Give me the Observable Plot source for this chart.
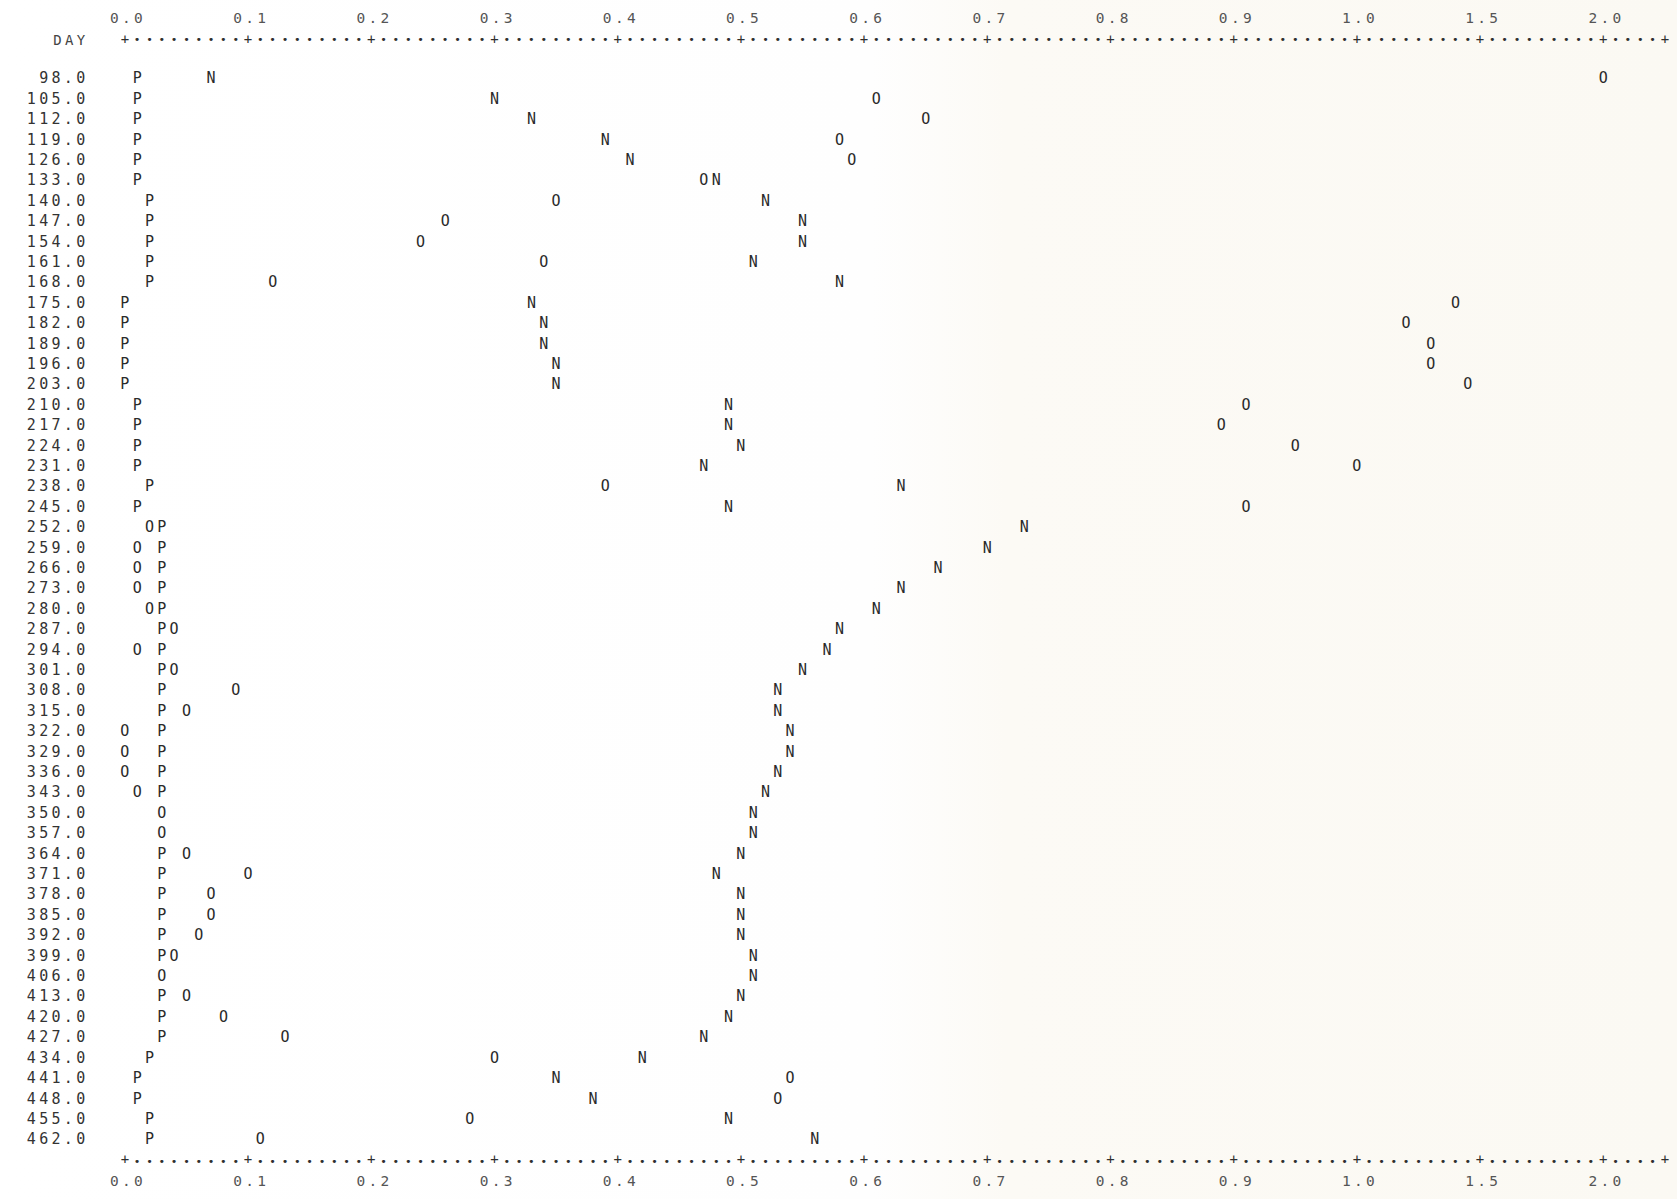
<!DOCTYPE html>
<html>
<head>
<meta charset="utf-8">
<script src="https://cdn.jsdelivr.net/npm/d3@7"></script>
<script src="https://cdn.jsdelivr.net/npm/@observablehq/plot@0.6"></script>
<style>
  html, body { margin: 0; padding: 0; }
  body {
    width: 1677px; height: 1199px; overflow: hidden;
    background: linear-gradient(90deg, #ffffff 0%, #fefefe 52%, #fcfaf5 60%, #fbf9f3 100%);
  }
  #chart svg text { letter-spacing: 3.3px; }
</style>
</head>
<body>
<div id="chart"></div>
<script>
// ---- data ----
const days = [98,105,112,119,126,133,140,147,154,161,168,175,182,189,196,203,210,217,224,231,238,245,252,259,266,273,280,287,294,301,308,315,322,329,336,343,350,357,364,371,378,385,392,399,406,413,420,427,434,441,448,455,462];

const seriesP = [0.01,0.01,0.01,0.01,0.01,0.01,0.02,0.02,0.02,0.02,0.02,0.00,0.00,0.00,0.00,0.00,0.01,0.01,0.01,0.01,0.02,0.01,0.03,0.03,0.03,0.03,0.03,0.03,0.03,0.03,0.03,0.03,0.03,0.03,0.03,0.03,0.03,0.03,0.03,0.03,0.03,0.03,0.03,0.03,0.03,0.03,0.03,0.03,0.02,0.01,0.01,0.02,0.02];

const seriesN = [0.07,0.30,0.33,0.39,0.41,0.48,0.52,0.55,0.55,0.51,0.58,0.33,0.34,0.34,0.35,0.35,0.49,0.49,0.50,0.47,0.63,0.49,0.73,0.70,0.66,0.63,0.61,0.58,0.57,0.55,0.53,0.53,0.54,0.54,0.53,0.52,0.51,0.51,0.50,0.48,0.50,0.50,0.50,0.51,0.51,0.50,0.49,0.47,0.42,0.35,0.38,0.49,0.56];

const seriesO = [2.00,0.61,0.65,0.58,0.59,0.47,0.35,0.26,0.24,0.34,0.12,1.40,1.20,1.30,1.30,1.45,0.91,0.89,0.95,1.00,0.39,0.91,0.02,0.01,0.01,0.01,0.02,0.04,0.01,0.04,0.09,0.05,0.00,0.00,0.00,0.01,0.03,0.03,0.05,0.10,0.07,0.07,0.06,0.04,0.03,0.05,0.08,0.13,0.30,0.54,0.53,0.28,0.11];

const tickValues = [0.0,0.1,0.2,0.3,0.4,0.5,0.6,0.7,0.8,0.9,1.0,1.5,2.0];
const tickLabels = ["0.0","0.1","0.2","0.3","0.4","0.5","0.6","0.7","0.8","0.9","1.0","1.5","2.0"];
const axisTitle = "DAY";

// ---- printer scale: linear to 1.0, then 0.5 per tick interval ----
const printerPos = v => v <= 1 ? v : 1 + (v - 1) / 5;

// one character per printer cell; a later symbol overprints an earlier one
const seriesList = [["P", seriesP], ["N", seriesN], ["O", seriesO]];
const cellMap = new Map();
for (const [symbol, values] of seriesList) {
  values.forEach((value, i) => {
    const key = days[i] + "|" + Math.round(printerPos(value) * 100);
    cellMap.set(key, {day: days[i], value, symbol});
  });
}
const cells = Array.from(cellMap.values());

// axis row of the printout: "+" at ticks, "." elsewhere
const axisCols = d3.range(0, 126);
const isTick = c => c % 10 === 0 || c === 125;

const mono = "'DejaVu Sans Mono', 'Liberation Mono', monospace";

const chart = Plot.plot({
  width: 1677,
  height: 1199,
  marginLeft: 126,
  marginRight: 11,
  marginTop: 78,
  marginBottom: 60,
  style: {background: "transparent", fontFamily: mono, fontSize: "15px", color: "#333"},
  x: {domain: [0, 1.25], axis: null},
  y: {domain: [98, 462], reverse: true, axis: null},
  marks: [
    // row labels
    Plot.axisY({ticks: days, tickFormat: d => d.toFixed(1), tickSize: 0, tickPadding: 38,
                label: null, fontSize: 15, fill: "#333"}),
    Plot.text([axisTitle], {frameAnchor: "top-left", dx: -38, dy: -43.5, textAnchor: "end",
                fontSize: 14, fill: "#444"}),
    // top axis row
    Plot.text(axisCols.filter(c => !isTick(c)), {x: c => c / 100, text: () => "•", frameAnchor: "top",
                dy: -43.5, fontSize: 11, fill: "#2e2e2e"}),
    Plot.text(axisCols.filter(isTick), {x: c => c / 100, text: () => "+", frameAnchor: "top",
                dy: -44.5, fontSize: 14, fill: "#2e2e2e"}),
    Plot.text(tickValues, {x: printerPos, text: (d, i) => tickLabels[i], frameAnchor: "top",
                dy: -66, dx: 1.6, fontSize: 14.5, fill: "#555"}),
    // bottom axis row
    Plot.text(axisCols.filter(c => !isTick(c)), {x: c => c / 100, text: () => "•", frameAnchor: "bottom",
                dy: 25, fontSize: 11, fill: "#2e2e2e"}),
    Plot.text(axisCols.filter(isTick), {x: c => c / 100, text: () => "+", frameAnchor: "bottom",
                dy: 24, fontSize: 14, fill: "#2e2e2e"}),
    Plot.text(tickValues, {x: printerPos, text: (d, i) => tickLabels[i], frameAnchor: "bottom",
                dy: 46, dx: 1.6, fontSize: 14.5, fill: "#555"}),
    // plotted symbols
    Plot.text(cells, {x: d => printerPos(d.value), y: "day", text: "symbol",
                fontSize: 15, fill: "#2a2a2a"})
  ]
});
document.getElementById("chart").appendChild(chart);
</script>
</body>
</html>
